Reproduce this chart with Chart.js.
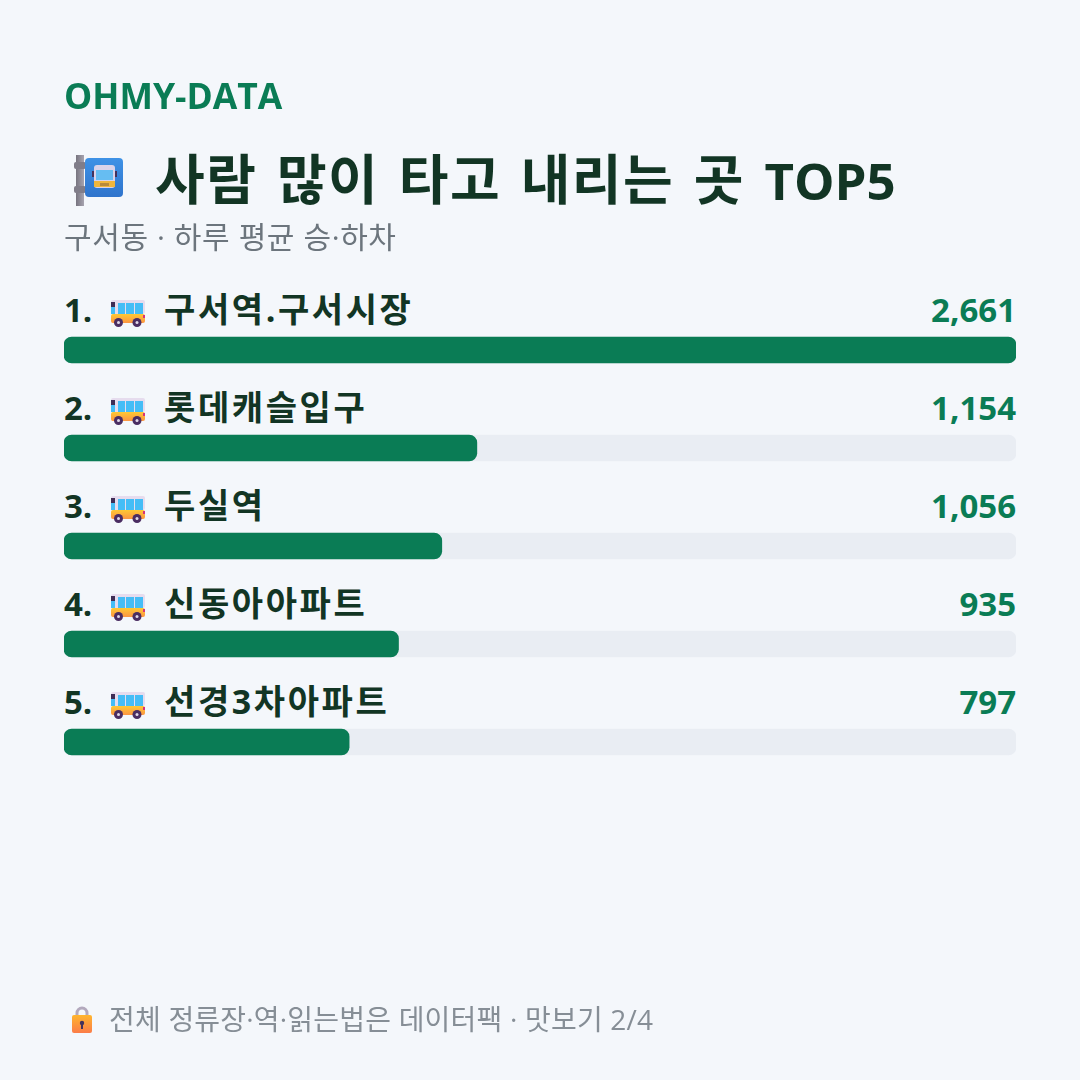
<!DOCTYPE html>
<html lang="ko">
<head>
<meta charset="utf-8">
<title>OHMY-DATA</title>
<script src="https://cdn.jsdelivr.net/npm/chart.js@4"></script>
<style>
  html, body { margin: 0; padding: 0; background: #f4f7fb; }
  body { width: 1080px; height: 1080px; position: relative; overflow: hidden;
         font-family: "Open Sans", "Noto Sans CJK KR", sans-serif; }
  canvas { position: absolute; left: 0; top: 0; }
  .txt { position: absolute; white-space: pre; line-height: 1; }
  #brand { left: 64px; top: 78px; font-size: 35.5px; font-weight: 700; color: #0a7c55; }
  #title { left: 155px; top: 152px; font-size: 54px; font-weight: 700; color: #123524; letter-spacing: 1.5px; word-spacing: 4px; }
  #title span { font-size: 51px; letter-spacing: 0; }
  #sub { left: 64px; top: 222px; font-size: 30px; letter-spacing: .6px; color: #6c757d; }
  #foot { left: 109px; top: 1005px; font-size: 28px; letter-spacing: .2px; color: #868e96; }
  svg { position: absolute; }
</style>
</head>
<body>
<canvas id="chart" width="1080" height="1080"></canvas>

<div class="txt" id="brand">OHMY-DATA</div>

<svg style="left:72px;top:154px" width="54" height="54" viewBox="0 0 54 54">
  <defs>
    <linearGradient id="pole" x1="0" x2="1" y1="0" y2="0">
      <stop offset="0" stop-color="#77747f"/><stop offset="1" stop-color="#a7a4b0"/>
    </linearGradient>
    <linearGradient id="board" x1="0" x2="0" y1="0" y2="1">
      <stop offset="0" stop-color="#3e92e6"/><stop offset="1" stop-color="#2f74cc"/>
    </linearGradient>
  </defs>
  <rect x="4" y="1" width="8" height="51" fill="url(#pole)"/>
  <rect x="2" y="8" width="12" height="7" rx="2" fill="#807d89"/>
  <rect x="2" y="32" width="12" height="7" rx="2" fill="#807d89"/>
  <rect x="13" y="4" width="38" height="39" rx="4" fill="url(#board)"/>
  <rect x="20" y="17" width="3" height="6" fill="#43325c"/>
  <rect x="42" y="17" width="3" height="6" fill="#43325c"/>
  <rect x="22" y="11" width="21" height="23" rx="3" fill="#d9d3ea"/>
  <rect x="24" y="16" width="17" height="10" fill="#66bdf2"/>
  <rect x="22" y="27" width="21" height="6" fill="#f0b63c"/>
  <rect x="28" y="29" width="9" height="3" fill="#b98a3a"/>
</svg>
<div class="txt" id="title">사람 많이 타고 내리는 곳 <span>TOP5</span></div>
<div class="txt" id="sub">구서동 · 하루 평균 승·하차</div>

<svg style="left:68px;top:1005px" width="26" height="30" viewBox="0 0 26 30">
  <defs>
    <linearGradient id="lock" x1="0" x2="0" y1="0" y2="1">
      <stop offset="0" stop-color="#ffb62e"/><stop offset="1" stop-color="#fb7c48"/>
    </linearGradient>
  </defs>
  <path d="M9 11V8a5 5 0 0 1 10 0v3" fill="none" stroke="#b3a9bd" stroke-width="3"/>
  <rect x="4" y="10" width="20" height="18" rx="2" fill="url(#lock)"/>
  <circle cx="14" cy="18" r="2.2" fill="#43325c"/>
  <rect x="13" y="19" width="2" height="5" fill="#43325c"/>
</svg>
<div class="txt" id="foot">전체 정류장·역·읽는법은 데이터팩 · 맛보기 2/4</div>

<script>
const stops = ["구서역.구서시장", "롯데캐슬입구", "두실역", "신동아아파트", "선경3차아파트"];
const riders = [2661, 1154, 1056, 935, 797];
const trackMax = 2661;

const GREEN = "#0a7c55";
const DARK = "#123524";
const FONT = '"Open Sans", "Noto Sans CJK KR", sans-serif';

// small bus icon next to each stop name
function drawBus(ctx, x, y) {
  ctx.save();
  ctx.translate(x, y);
  ctx.fillStyle = "#e6dcee";
  ctx.beginPath(); ctx.roundRect(0, 0, 34, 14, 2); ctx.fill();
  ctx.fillStyle = "#45bdf6";
  ctx.fillRect(0, 3, 4, 11);
  ctx.fillRect(7, 3, 7, 11);
  ctx.fillRect(15, 3, 8, 11);
  ctx.fillRect(24, 3, 8, 11);
  ctx.fillStyle = "#3f2d55";
  ctx.fillRect(0, 2, 4, 5);
  const g = ctx.createLinearGradient(0, 14, 0, 24);
  g.addColorStop(0, "#ffc933");
  g.addColorStop(1, "#fb8f45");
  ctx.fillStyle = g;
  ctx.beginPath(); ctx.roundRect(0, 14, 34, 9, 2); ctx.fill();
  ctx.fillStyle = "#d6337a";
  ctx.fillRect(32, 15, 2, 3);
  [7.5, 26].forEach(cx => {
    ctx.fillStyle = "#4a2d62";
    ctx.beginPath(); ctx.arc(cx, 22.5, 4.5, 0, Math.PI * 2); ctx.fill();
    ctx.fillStyle = "#e0d8e8";
    ctx.beginPath(); ctx.arc(cx, 22.5, 1.5, 0, Math.PI * 2); ctx.fill();
  });
  ctx.restore();
}

// page background, so the canvas can stay opaque
const pageBackground = {
  id: "pageBackground",
  beforeDraw(chart) {
    chart.ctx.fillStyle = "#f4f7fb";
    chart.ctx.fillRect(0, 0, chart.width, chart.height);
  }
};

// rank, icon, name and value above each bar
const rowLabels = {
  id: "rowLabels",
  afterDatasetsDraw(chart) {
    const { ctx, scales: { y }, chartArea } = chart;
    ctx.save();
    ctx.textBaseline = "alphabetic";
    stops.forEach((name, i) => {
      const base = y.getPixelForValue(i) - 28;
      ctx.textAlign = "left";
      ctx.fillStyle = DARK;
      ctx.font = `700 33px ${FONT}`;
      ctx.fillText(`${i + 1}.`, chartArea.left, base);
      ctx.font = `700 34px ${FONT}`;
      ctx.letterSpacing = "2.6px";
      ctx.fillText(name, chartArea.left + 100, base);
      ctx.letterSpacing = "0px";
      drawBus(ctx, chartArea.left + 47, base - 22);
      ctx.font = `700 33px ${FONT}`;
      ctx.fillStyle = GREEN;
      ctx.textAlign = "right";
      ctx.fillText(riders[i].toLocaleString("en-US"), chartArea.right, base);
    });
    ctx.restore();
  }
};

const canvas = document.getElementById("chart");
const ctx = canvas.getContext("2d", { alpha: false });

new Chart(ctx, {
  type: "bar",
  data: {
    labels: stops,
    datasets: [
      { data: riders, backgroundColor: GREEN, order: 0 },
      { data: stops.map(() => trackMax), backgroundColor: "#e9edf3", order: 1 }
    ]
  },
  options: {
    indexAxis: "y",
    responsive: false,
    animation: false,
    grouped: false,
    barThickness: 26,
    borderRadius: 8,
    borderSkipped: false,
    layout: { padding: { left: 64, right: 64, top: 301, bottom: 289 } },
    plugins: { legend: { display: false }, tooltip: { enabled: false } },
    scales: {
      x: { display: false, min: 0, max: trackMax },
      y: { display: false }
    }
  },
  plugins: [pageBackground, rowLabels]
});
</script>
</body>
</html>
